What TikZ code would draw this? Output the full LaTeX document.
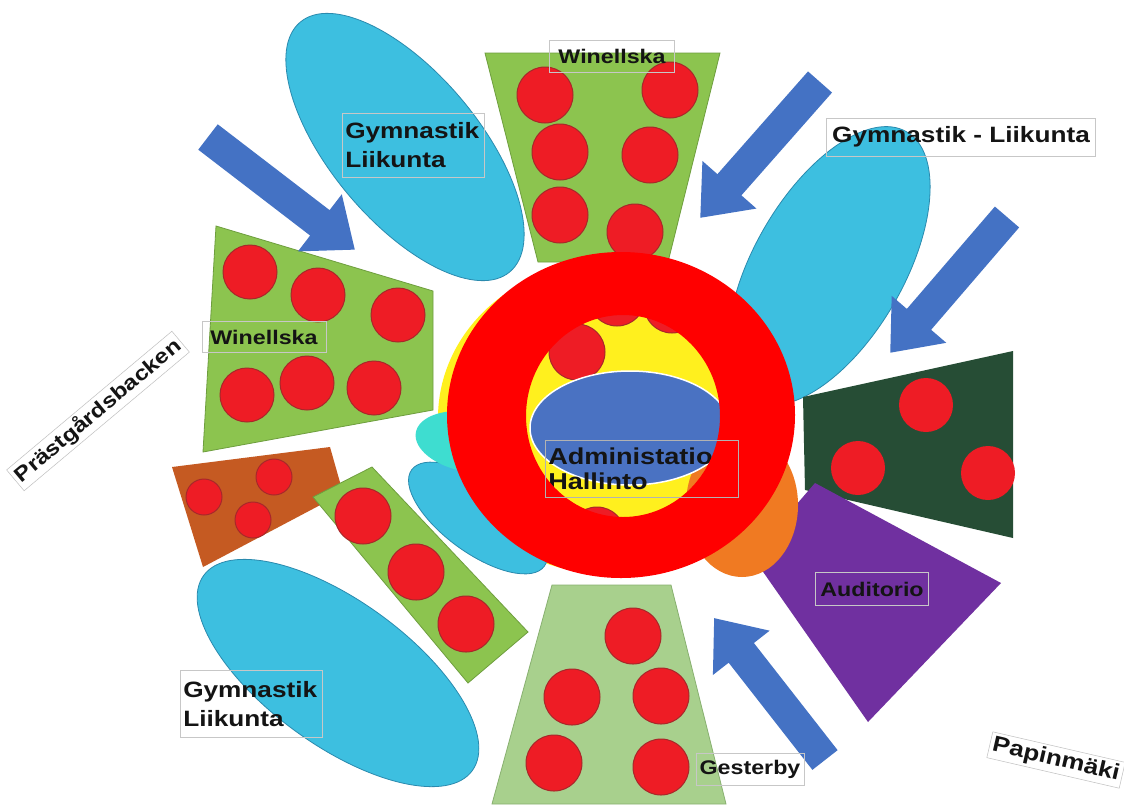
\documentclass[tikz,border=0pt]{standalone}
\usepackage{fontspec}
\setmainfont{Liberation Sans}
\newfontfamily\lblfont{Liberation Sans}[FakeStretch=1.18]
\definecolor{cyanE}{HTML}{3DBFE0}
\definecolor{cyanEd}{HTML}{2A8AAE}
\definecolor{arrowB}{HTML}{4472C4}
\definecolor{grn}{HTML}{8CC44F}
\definecolor{grnd}{HTML}{6E9E3E}
\definecolor{lgrn}{HTML}{A8D08D}
\definecolor{lgrnd}{HTML}{88B070}
\definecolor{redc}{HTML}{EE1C25}
\definecolor{redd}{HTML}{A8282A}
\definecolor{dgrn}{HTML}{264D35}
\definecolor{purp}{HTML}{7030A0}
\definecolor{brwn}{HTML}{C55A22}
\definecolor{orng}{HTML}{F07A22}
\definecolor{yel}{HTML}{FFF01E}
\definecolor{turq}{HTML}{3EDDD0}
\definecolor{admB}{HTML}{4A72C2}
\newcommand\barrow[3]{\fill[blk, shift={(#1)}, rotate=#2] (0,-16) -- ({#3-44},-16) -- ({#3-44},-36) -- (#3,0) -- ({#3-44},36) -- ({#3-44},16) -- (0,16) -- cycle;}
\begin{document}
\begin{tikzpicture}[x=1pt,y=-1pt,
  ell/.style={fill=cyanE, draw=cyanEd, line width=0.8},
  blk/.style={fill=arrowB},
  zone/.style={fill=grn, draw=grnd, line width=0.8},
  dot/.style={fill=redc, draw=redd, line width=1},
  bdot/.style={fill=redc},
  lbl/.style={draw=black!22, line width=0.5, inner sep=3, text=black!92, align=left,
    font=\lblfont\bfseries\fontsize{22.2}{29}\selectfont},
  lbls/.style={lbl, font=\lblfont\bfseries\fontsize{19.7}{24}\selectfont},
  tag/.style={draw=black!25, fill=white, line width=0.5, inner sep=3, text=black!92,
    font=\lblfont\bfseries\fontsize{20.5}{26}\selectfont}]
\useasboundingbox (0,0) rectangle (1124,804);
\fill[white] (0,0) rectangle (1124,804);

% ---- top-left ellipse
\draw[ell, rotate around={-50:(405,147)}] (405,147) ellipse [x radius=163, y radius=74];
% ---- top green zone
\draw[zone] (485,53) -- (720,53) -- (668,262) -- (538,262) -- cycle;
\foreach \p in {(545,95),(670,90),(560,152),(650,155),(560,215),(635,232)} \draw[dot] \p circle (28);
% ---- right ellipse
\draw[ell, rotate around={60:(829,266)}] (829,266) ellipse [x radius=155, y radius=75];
% ---- left green zone
\draw[zone] (216,226) -- (433,291) -- (433,410) -- (203,452) -- cycle;
\foreach \p in {(250,272),(318,295),(398,315),(247,395),(307,383),(374,388)} \draw[dot] \p circle (27);
% ---- brown zone
\fill[brwn] (172,467) -- (330,447) -- (343,493) -- (203,567) -- cycle;
\foreach \p in {(204,497),(274,477),(253,520)} \draw[dot] \p circle (18);
% ---- lower-left ellipse
\draw[ell, rotate around={-36:(338,673)}] (338,673) ellipse [x radius=166, y radius=72];
% ---- diagonal strip
\draw[zone] (372,467) -- (528,632) -- (468,683) -- (313,497) -- cycle;
\foreach \p in {(363,516),(416,572),(466,624)} \draw[dot] \p circle (28);
% ---- dark green zone
\fill[dgrn] (803,397) -- (1013,351) -- (1013,538) -- (805,490) -- cycle;
\foreach \p in {(926,405),(858,468),(988,473)} \fill[bdot] \p circle (27);
% ---- purple zone
\fill[purp] (815,483) -- (1001,583) -- (868,722) -- (752,556) -- cycle;
% ---- bottom green zone
\draw[fill=lgrn, draw=lgrnd, line width=0.8] (552,585) -- (671,585) -- (726,804) -- (492,804) -- cycle;
\foreach \p in {(633,636),(572,697),(661,696),(554,763),(661,767)} \draw[dot] \p circle (28);

% ---- central cluster
\fill[yel] (608,418) ellipse [x radius=170, y radius=156];
\fill[orng] (742,505) ellipse [x radius=56, y radius=72];
\draw[ell, rotate around={-36:(478,518)}] (478,518) ellipse [x radius=82, y radius=35];
\fill[turq, rotate around={-10:(470,442)}] (470,442) ellipse [x radius=55, y radius=30];
\foreach \p in {(577,352),(617,298),(672,305),(597,535)} \draw[dot] \p circle (28);
\draw[fill=admB, draw=white, line width=1.5] (630,428) ellipse [x radius=100, y radius=57];
\node[lbl, font=\lblfont\bfseries\fontsize{23}{25}\selectfont, anchor=north west, text width=187, minimum height=57, draw=none] (adm) at (545,440) {Administatio\\Hallinto};
\fill[red, even odd rule] (621,415) ellipse [x radius=174, y radius=163] (623,416) ellipse [x radius=97, y radius=101];
\draw[black!30, line width=0.5] (adm.north west) rectangle (adm.south east);

% ---- block arrows
\barrow{208,137}{-37.5}{185}
\barrow{820,82}{-131.4}{181}
\barrow{1007,217}{-130.7}{179}
\barrow{825,760}{128}{180}

% ---- labels
\node[lbl, anchor=north west, text width=136, minimum height=64] (g1) at (342,113) {Gymnastik\\Liikunta};
\node[lbls, minimum width=125, minimum height=32] (w1) at (612,56) {Winellska};
\node[lbl, minimum width=269, minimum height=38] (g2) at (961,137) {Gymnastik - Liikunta};
\node[lbls, minimum width=124, minimum height=31] (w2) at (264,337) {Winellska};
\node[lbl, anchor=north west, text width=136, minimum height=67] (g3) at (180,670) {Gymnastik\\Liikunta};
\node[lbls, minimum width=113, minimum height=33] (aud) at (872,589) {Auditorio};
\node[lbls, minimum width=108, minimum height=32] (ges) at (750,769) {Gesterby};
\node[tag, rotate=40] (pr) at (98,411) {Prästgårdsbacken};
\node[tag, rotate=-13, font=\lblfont\bfseries\fontsize{22}{26}\selectfont] (pa) at (1056,760) {Papinmäki};
\end{tikzpicture}
\end{document}
